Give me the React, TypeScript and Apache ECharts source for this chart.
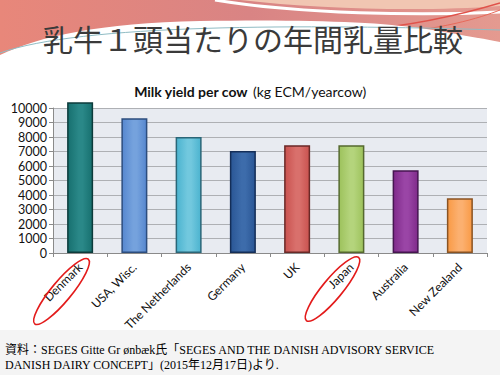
import React, { useEffect, useRef } from "react";
import * as echarts from "echarts";

const categories = ["Denmark", "USA, Wisc.", "The Netherlands", "Germany", "UK", "Japan", "Australia", "New Zealand"];
const values = [10400, 9300, 8000, 7030, 7430, 7430, 5700, 3770];
const barColors = ["#17706f", "#5687cf", "#4bb3cf", "#2a5695", "#c9524f", "#9dc25c", "#7f2a8a", "#f99a45"];
const barLights = ["#2a8888", "#75a2dd", "#72c8de", "#3d6cab", "#d9706c", "#b4d47c", "#9a45a6", "#fbb070"];
const barBorders = ["#0c3b3b", "#2c4d7e", "#2a6678", "#142e58", "#6a2927", "#55692f", "#451550", "#8a5322"];
const yTicks = { min: 0, max: 10000, interval: 1000 };
const mainTitle = "乳牛１頭当たりの年間乳量比較";
const sourceLines = [
  "資料：SEGES Gitte Gr ønbæk氏「SEGES AND THE DANISH ADVISORY SERVICE",
  "DANISH DAIRY CONCEPT」(2015年12月17日)より.",
];

echarts.graphic.registerShape(
  "whiteBody",
  echarts.graphic.extendPath(
    "M0,55 C40,36 100,23 200,21 C300,19 380,22 420,28 C450,33 480,38 500,42 L500,80 L0,80 Z",
    {}
  )
);
echarts.graphic.registerShape(
  "peachTop",
  echarts.graphic.extendPath("M240,0 L500,0 L500,6 C420,12 320,9 240,0 Z", {})
);

export default function App() {
  const ref = useRef<HTMLDivElement>(null);
  useEffect(() => {
    if (!ref.current) return;
    const chart = echarts.init(ref.current, null, { renderer: "svg" });
    const data = values.map((v, i) => ({
      value: v,
      itemStyle: {
        color: new echarts.graphic.LinearGradient(0, 0, 1, 0, [
          { offset: 0, color: barColors[i] },
          { offset: 0.45, color: barLights[i] },
          { offset: 0.6, color: barLights[i] },
          { offset: 1, color: barColors[i] },
        ]),
        borderColor: barBorders[i],
        borderWidth: 1.5,
      },
    }));
    chart.setOption({
      animation: false,
      backgroundColor: "#ffffff",
      title: {
        left: "center",
        top: 77,
        text: "{b|Milk yield per cow} {n|(kg ECM/yearcow)}",
        textStyle: {
          rich: {
            b: { fontFamily: "Lato", fontWeight: "bold", fontSize: 14, color: "#111" },
            n: { fontFamily: "Lato", fontWeight: "normal", fontSize: 14, color: "#111" },
          },
        },
      },
      grid: {
        left: 53,
        right: 13,
        top: 108,
        bottom: 122,
        show: true,
        backgroundColor: "#e8ebf1",
        borderWidth: 0,
      },
      xAxis: {
        type: "category",
        data: categories,
        axisLine: { lineStyle: { color: "#8a8a8a" } },
        axisTick: { show: true, length: 4, lineStyle: { color: "#8a8a8a" } },
        axisLabel: {
          rotate: 45,
          interval: 0,
          fontFamily: "Lato",
          fontSize: 12,
          color: "#111",
          margin: 12,
        },
      },
      yAxis: {
        type: "value",
        min: yTicks.min,
        max: yTicks.max,
        interval: yTicks.interval,
        axisLine: { show: true, lineStyle: { color: "#8a8a8a" } },
        axisTick: { show: true, length: 4, lineStyle: { color: "#8a8a8a" } },
        axisLabel: {
          fontFamily: "Lato",
          fontSize: 12.5,
          color: "#111",
          margin: 6,
          formatter: (v: number) => String(v),
        },
        splitLine: { lineStyle: { color: "#aeb0b4", width: 1 } },
      },
      series: [
        {
          type: "bar",
          data,
          barWidth: 26,
          clip: false,
        },
      ],
      graphic: [
        {
          type: "rect",
          shape: { x: 0, y: 0, width: 500, height: 80 },
          style: {
            fill: new echarts.graphic.LinearGradient(0, 0, 1, 0, [
              { offset: 0, color: "#e8877a" },
              { offset: 0.5, color: "#d98484" },
              { offset: 1, color: "#e49a90" },
            ]),
          },
          z: -10,
        },
        { type: "peachTop", style: { fill: "#f1c6b2" }, z: -9 },
        {
          type: "bezierCurve",
          shape: { x1: 215, y1: 0, x2: 500, y2: 12, cpx1: 300, cpy1: 14, cpx2: 420, cpy2: 16 },
          style: { stroke: "#ffffff", lineWidth: 3, fill: null },
          z: -8,
        },
        {
          type: "bezierCurve",
          shape: { x1: 360, y1: 30, x2: 500, y2: 3, cpx1: 420, cpy1: 25, cpx2: 470, cpy2: 12 },
          style: { stroke: "#e0524a", lineWidth: 1.5, fill: null },
          z: -8,
        },
        {
          type: "bezierCurve",
          shape: { x1: 380, y1: 34, x2: 500, y2: 10, cpx1: 440, cpy1: 30, cpx2: 480, cpy2: 18 },
          style: { stroke: "#e86a5a", lineWidth: 1, fill: null },
          z: -8,
        },
        { type: "whiteBody", style: { fill: "#ffffff" }, z: -7 },
        {
          type: "bezierCurve",
          shape: { x1: 0, y1: 53, x2: 500, y2: 30, cpx1: 80, cpy1: 24, cpx2: 300, cpy2: 24 },
          style: { stroke: "#8fbcc4", lineWidth: 1, fill: null },
          z: -6,
        },
        {
          type: "rect",
          shape: { x: 0, y: 330, width: 500, height: 45 },
          style: { fill: "#f4f4f4" },
          z: -10,
        },
        {
          type: "text",
          left: 43,
          top: 23,
          style: {
            text: mainTitle,
            fontFamily: "Noto Sans CJK JP",
            fontSize: 30,
            fill: "#3a3a3a",
          },
        },
        {
          type: "text",
          left: 5,
          top: 344,
          style: {
            text: sourceLines[0],
            fontFamily: "Liberation Serif, Noto Sans CJK JP",
            fontWeight: "normal",
            fontSize: 12,
            fill: "#000",
          },
        },
        {
          type: "text",
          left: 5,
          top: 359,
          style: {
            text: sourceLines[1],
            fontFamily: "Liberation Serif, Noto Sans CJK JP",
            fontWeight: "normal",
            fontSize: 12,
            fill: "#000",
          },
        },
        {
          type: "ellipse",
          x: 61.5,
          y: 291.5,
          rotation: 0.88,
          shape: { cx: 0, cy: 0, rx: 42, ry: 10 },
          style: { stroke: "#e31b1b", lineWidth: 1.6, fill: null },
          z: 10,
        },
        {
          type: "ellipse",
          x: 332.5,
          y: 289,
          rotation: 0.88,
          shape: { cx: 0, cy: 0, rx: 41, ry: 10 },
          style: { stroke: "#e31b1b", lineWidth: 1.6, fill: null },
          z: 10,
        },
      ],
    });
    return () => chart.dispose();
  }, []);
  return (
    <div
      ref={ref}
      style={{ position: "absolute", left: 0, top: 0, width: 500, height: 375 }}
    />
  );
}
